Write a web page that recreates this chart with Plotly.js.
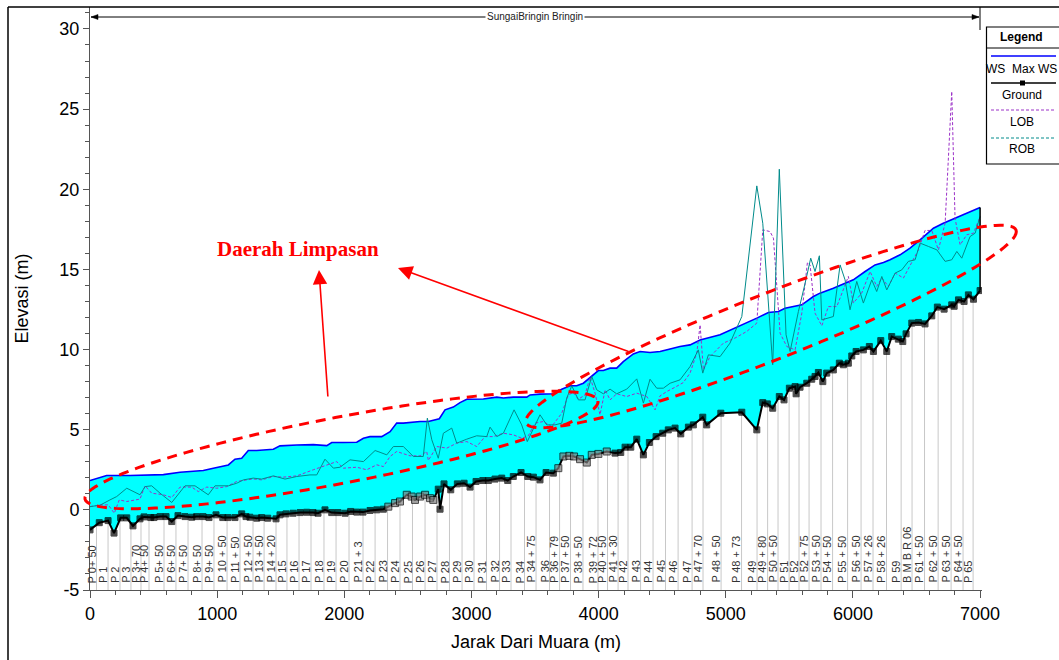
<!DOCTYPE html>
<html><head><meta charset="utf-8">
<script src="https://cdn.plot.ly/plotly-3.0.1.min.js"></script>
<style>html,body{margin:0;padding:0;background:#fff}#chart{width:1059px;height:660px}</style>
</head><body><div id="chart"></div>
<script>
// ---- DATA (distance from river mouth in m, elevation in m) ----
const groundDist=[0,73,142,189,241,289,338,393,425,477,503,551,598,643,692,747,800,839,889,936,991,1044,1085,1140,1193,1227,1258,1311,1350,1398,1463,1494,1542,1597,1652,1704,1754,1793,1848,1901,1951,2006,2050,2098,2147,2202,2255,2307,2346,2399,2438,2491,2530,2556,2596,2635,2674,2700,2739,2753,2784,2837,2889,2942,2989,3036,3089,3133,3185,3238,3285,3329,3390,3443,3487,3539,3587,3644,3683,3723,3770,3807,3854,3907,3946,3998,4064,4129,4174,4208,4253,4300,4352,4399,4452,4504,4548,4601,4646,4706,4745,4819,4850,4961,5126,5244,5291,5327,5369,5421,5458,5500,5545,5553,5584,5637,5676,5702,5728,5763,5794,5846,5893,5925,5964,5991,6025,6082,6129,6161,6219,6266,6305,6357,6392,6418,6463,6515,6567,6620,6664,6717,6777,6796,6830,6874,6908,6948,7000];
const groundElev=[-1.25,-0.8,-0.67,-1.45,-0.5,-0.5,-1.0,-0.56,-0.44,-0.48,-0.48,-0.42,-0.42,-0.73,-0.36,-0.42,-0.46,-0.42,-0.42,-0.48,-0.31,-0.48,-0.48,-0.48,-0.25,-0.42,-0.46,-0.52,-0.48,-0.52,-0.56,-0.31,-0.25,-0.21,-0.17,-0.15,-0.17,-0.21,0.0,-0.17,-0.17,-0.21,-0.1,-0.14,-0.14,-0.04,0.0,0.04,0.2,0.42,0.52,0.94,0.83,0.62,0.83,0.94,0.73,0.62,1.29,0.04,1.62,1.25,1.62,1.66,1.42,1.77,1.83,1.83,1.92,1.98,1.83,2.08,2.33,2.08,2.04,1.87,2.33,2.29,2.6,3.33,3.37,3.33,3.16,2.95,3.43,3.49,3.64,3.54,3.58,3.91,3.91,4.41,3.43,4.2,4.57,4.78,4.99,5.1,4.74,5.16,5.3,5.78,5.3,6.03,6.09,4.99,6.69,6.61,6.34,7.07,6.86,7.59,7.69,7.24,7.65,7.9,8.15,8.32,8.57,8.0,8.53,8.73,9.15,9.05,9.15,9.6,9.88,9.98,10.19,9.88,10.56,9.88,10.81,10.65,10.5,10.98,11.65,11.69,11.6,12.1,12.65,12.52,12.79,12.7,13.1,13.0,13.41,13.14,13.68];

const wsDist=[0,131,315,577,708,891,970,1088,1140,1193,1245,1311,1442,1494,1626,1756,1862,1901,1992,2098,2150,2202,2294,2360,2412,2464,2596,2661,2747,2792,2857,2910,2963,3093,3199,3251,3329,3435,3461,3539,3644,3710,3775,3828,3880,3933,3998,4037,4090,4142,4194,4273,4326,4404,4483,4562,4640,4719,4798,4955,5073,5165,5244,5335,5414,5466,5545,5598,5689,5741,5846,5925,6003,6096,6174,6240,6292,6371,6449,6528,6633,6711,6777,6830,6908,7000];
const wsElev=[1.83,2.14,2.14,2.2,2.35,2.45,2.6,2.8,3.16,3.22,3.7,3.7,3.78,3.99,4.05,4.07,4.01,4.2,4.2,4.22,4.47,4.57,4.57,4.88,5.41,5.41,5.51,5.51,5.68,6.24,6.41,6.69,6.9,6.92,7.03,6.98,7.03,7.03,7.17,7.22,7.24,7.53,7.74,7.74,7.9,8.28,8.69,8.69,8.84,8.84,9.25,9.73,9.88,9.82,9.88,10.03,10.19,10.29,10.6,10.92,11.33,11.65,11.96,12.31,12.37,12.58,12.68,12.79,13.31,13.52,13.83,14.1,14.35,14.87,15.28,15.43,15.6,15.91,16.33,16.84,17.57,17.88,18.09,18.26,18.55,18.86];

const lobDist=[0,79,144,191,230,289,393,433,485,577,643,708,800,852,918,997,1075,1154,1232,1284,1350,1442,1520,1626,1756,1809,1874,1940,1992,2098,2176,2255,2307,2360,2412,2517,2596,2648,2661,2727,2806,2884,2963,3041,3107,3172,3251,3329,3395,3447,3500,3565,3631,3710,3762,3801,3841,3893,3933,3972,4011,4051,4090,4142,4221,4300,4379,4444,4483,4536,4601,4666,4719,4772,4798,4824,4876,4981,5073,5165,5244,5291,5348,5375,5427,5480,5545,5598,5642,5663,5702,5755,5807,5873,5964,6003,6069,6135,6187,6227,6279,6332,6397,6463,6515,6567,6620,6672,6725,6777,6803,6843,6895,6948,7000];
const lobElev=[0.2,0.31,0.31,-0.21,0.62,0.52,0.67,1.5,1.04,0.94,0.77,1.42,1.42,1.14,1.42,1.35,1.45,1.77,1.87,1.93,1.87,2.08,2.04,2.12,2.5,2.66,2.81,3.01,2.6,2.66,2.5,2.81,2.7,3.33,3.64,3.37,3.37,3.64,3.08,3.95,3.85,4.16,4.26,3.95,4.57,4.57,4.78,4.68,4.47,4.62,5.41,5.51,5.2,6.03,7.17,7.32,6.9,7.17,8.28,7.28,5.93,7.49,6.86,7.24,7.07,7.28,7.07,6.24,7.11,7.38,7.65,7.94,8.53,9.78,11.54,8.73,9.56,10.4,10.72,11.13,11.65,17.47,17.36,16.95,11.02,10.19,9.98,12.27,15.43,15.28,12.27,11.48,12.68,12.68,14.56,12.9,13.52,14.87,13.94,14.46,13.94,14.77,14.46,15.5,16.22,17.43,17.43,16.22,17.88,26.1,18.2,16.53,17.16,17.26,18.3];

const robDist=[0,79,157,210,289,393,433,485,551,643,747,826,930,983,1088,1154,1206,1284,1350,1442,1534,1626,1730,1783,1848,1914,1966,2045,2150,2242,2281,2334,2386,2464,2543,2621,2653,2688,2739,2779,2845,2884,2963,3041,3120,3146,3199,3251,3335,3395,3439,3500,3539,3592,3657,3710,3749,3789,3841,3893,3946,3985,4037,4090,4142,4221,4300,4352,4404,4457,4509,4562,4640,4719,4784,4819,4863,4955,5033,5126,5244,5291,5369,5421,5474,5506,5571,5624,5668,5702,5736,5755,5846,5899,5938,5977,6030,6082,6148,6187,6227,6266,6332,6384,6436,6489,6528,6594,6660,6725,6777,6817,6856,6921,6961,7000];
const robElev=[0.2,0.29,0.62,0.83,1.35,0.94,1.45,1.5,1.04,0.46,1.5,1.5,0.94,1.5,1.5,1.66,1.87,1.98,1.92,2.12,1.92,2.08,2.18,2.18,3.16,2.6,2.66,3.12,3.01,3.7,3.59,3.43,3.95,3.95,3.33,3.33,5.72,4.37,3.22,4.78,5.1,4.16,4.41,4.62,4.57,5.16,4.57,4.78,6.24,5.3,4.26,5.3,5.93,5.3,5.3,5.41,6.97,7.74,6.86,6.86,8.32,7.49,7.24,7.53,7.24,7.53,8.17,6.66,8.15,7.59,7.59,7.9,8.11,8.94,9.98,8.53,9.67,9.56,10.4,12.06,20.21,17.88,9.05,21.25,10.92,9.88,12.37,14.14,15.7,14.87,15.85,11.85,12.06,15.28,14.35,12.48,14.25,12.9,14.35,13.62,14.56,13.72,14.77,14.97,15.5,15.6,16.64,16.43,16.22,15.5,15.6,16.12,15.7,17.05,17.26,18.3];

const stationDist=[51,142,236,322,401,464,582,676,771,881,975,1078,1180,1282,1369,1463,1549,1644,1738,1840,1935,2037,2147,2242,2340,2438,2536,2635,2729,2827,2926,3020,3118,3221,3311,3417,3508,3614,3693,3779,3877,3995,4070,4153,4231,4330,4428,4526,4625,4735,4821,4963,5124,5246,5329,5411,5498,5576,5655,5749,5840,5958,6064,6158,6264,6379,6465,6563,6670,6772,6866,6945];
const stationLabel=["P 0+ 50","P 1","P 2","P 3","P 3+ 70","P 4+ 50","P 5+ 50","P 6+ 50","P 7+ 50","P 8+ 50","P 9+ 50","P 10 + 50","P 11 + 50","P 12 + 50","P 13 + 50","P 14 + 20","P 15","P 16","P 17","P 18","P 19","P 20","P 21 + 3","P 22","P 23","P 24","P 25","P 26","P 27","P 28","P 29","P 30","P 31","P 32","P 33","P 34","P 34 + 75","P 36","P 36 + 79","P 37 + 50","P 38 + 50","P 39 + 72","P 40 + 50","P 41 + 30","P 42","P 43","P 44","P 45","P 46","P 47","P 47 + 70","P 48 + 50","P 48 + 73","P 49","P 49 + 80","P 50 + 50","P 51","P 52","P 52 + 75","P 53 + 50","P 54 + 50","P 55 + 50","P 56 + 50","P 57 + 26","P 58 + 26","P 59","B M B R 06","P 61 + 50","P 62 + 50","P 63 + 50","P 64 + 50","P 65"];

const xTickVals=[0,1000,2000,3000,4000,5000,6000,7000];
const yTickVals=[-5,0,5,10,15,20,25,30];
const reachName="SungaiBringin Bringin";
const legendNames=["WS  Max WS","Ground","LOB","ROB"];

// ---- LAYOUT HELPERS ----
const W=1059,H=660,ML=90,MR=77,MT=7,MB=70;
const PW=W-ML-MR, PH=H-MT-MB;
const px=x=>(x-ML)/PW, py=y=>(H-MB-y)/PH;
const FONT='"Liberation Sans Narrow","Liberation Sans",Arial,sans-serif';
const TFONT='"Liberation Sans",Arial,sans-serif';
const RED='#FF0000';

function interp(xs,ys,x){
  for(let i=1;i<xs.length;i++){ if(x<=xs[i]){const t=(x-xs[i-1])/(xs[i]-xs[i-1]);return ys[i-1]+t*(ys[i]-ys[i-1]);} }
  return ys[ys.length-1];
}
const stX=[],stY=[];
stationDist.forEach(d=>{stX.push(d,d,null);stY.push(interp(groundDist,groundElev,d),-5,null);});
const isInterp=d=>(d>=2340&&d<=2720)||(d>=3680&&d<=4100);
const gColors=groundDist.map(d=>isInterp(d)?'#7f7f7f':'#000000');
const gSizes=groundDist.map(d=>isInterp(d)?7:6);

const traces=[
  {x:stX,y:stY,mode:'lines',line:{color:'#c8c8c8',width:1},hoverinfo:'skip',showlegend:false},
  {x:groundDist,y:groundElev,mode:'lines',line:{width:0,color:'rgba(0,0,0,0)'},hoverinfo:'skip',showlegend:false},
  {x:wsDist,y:wsElev,mode:'lines',fill:'tonexty',fillcolor:'#00FFFF',line:{color:'#0000FF',width:1.6},name:legendNames[0]},
  {x:lobDist,y:lobElev,mode:'lines',line:{color:'#9B30C8',width:1,dash:'3px,2px'},name:legendNames[2]},
  {x:robDist,y:robElev,mode:'lines',line:{color:'#008B8B',width:1},name:legendNames[3]},
  {x:groundDist,y:groundElev,mode:'lines+markers',line:{color:'#000',width:2},marker:{symbol:'square',size:gSizes,color:gColors},name:legendNames[1]}
];

function ellipsePath(L,R,b){
  const cx=(L[0]+R[0])/2, cy=(L[1]+R[1])/2;
  const dx=R[0]-L[0], dy=R[1]-L[1], len=Math.hypot(dx,dy), a=len/2;
  const ux=dx/len, uy=dy/len, vx=-uy, vy=ux;
  let p='';
  for(let i=0;i<=120;i++){
    const t=2*Math.PI*i/120;
    const X=cx+a*Math.cos(t)*ux+b*Math.sin(t)*vx;
    const Y=cy+a*Math.cos(t)*uy+b*Math.sin(t)*vy;
    p+=(i?'L':'M')+px(X).toFixed(5)+','+py(Y).toFixed(5);
  }
  return p+'Z';
}
const P=(o)=>Object.assign({xref:'paper',yref:'paper'},o);
const T=(o)=>Object.assign({xref:'paper',yref:'paper',xanchor:'center',yanchor:'middle',showarrow:false},o);
const nG=groundDist.length-1, nW=wsDist.length-1;
const shapes=[
  // image frame (left/top)
  P({type:'line',x0:px(8),x1:px(8),y0:py(7),y1:py(665),line:{color:'#000',width:1.5}}),
  P({type:'line',x0:px(8),x1:px(1065),y0:py(7),y1:py(7),line:{color:'#000',width:1.5}}),
  // reach arrow
  P({type:'line',x0:px(91),x1:px(979),y0:py(17),y1:py(17),line:{color:'#000',width:1}}),
  P({type:'path',path:`M${px(91)},${py(17)}L${px(98)},${py(14.5)}L${px(98)},${py(19.5)}Z`,fillcolor:'#000',line:{color:'#000',width:0.5}}),
  P({type:'path',path:`M${px(979)},${py(17)}L${px(972)},${py(14.5)}L${px(972)},${py(19.5)}Z`,fillcolor:'#000',line:{color:'#000',width:0.5}}),
  P({type:'line',x0:px(980),x1:px(980),y0:py(7),y1:py(30),line:{color:'#000',width:1}}),
  // right end boundary between ground and WS
  {type:'line',xref:'x',yref:'y',x0:groundDist[nG],x1:groundDist[nG],y0:groundElev[nG],y1:wsElev[nW],line:{color:'#000',width:1.5}},
  // legend box
  P({type:'rect',x0:px(986.5),x1:px(1070),y0:py(27),y1:py(164),line:{color:'#000',width:1.2},fillcolor:'#fff'}),
  P({type:'line',x0:px(986.5),x1:px(1070),y0:py(48),y1:py(48),line:{color:'#000',width:1}}),
  P({type:'line',x0:px(991),x1:px(1056),y0:py(56),y1:py(56),line:{color:'#0000FF',width:1.5}}),
  P({type:'line',x0:px(991),x1:px(1056),y0:py(83),y1:py(83),line:{color:'#000',width:1.5}}),
  P({type:'rect',x0:px(1020),x1:px(1025),y0:py(80.5),y1:py(85.5),line:{color:'#000',width:0},fillcolor:'#000'}),
  P({type:'line',x0:px(991),x1:px(1056),y0:py(110),y1:py(110),line:{color:'#9B30C8',width:1,dash:'3px,2px'}}),
  P({type:'line',x0:px(991),x1:px(1056),y0:py(138),y1:py(138),line:{color:'#008B8B',width:1,dash:'3px,2px'}}),
  // red dashed ellipses
  P({type:'path',path:ellipsePath([85,499],[598,401],33),line:{color:RED,width:3,dash:'10px,7px'}}),
  P({type:'path',path:ellipsePath([526,423],[1016,230],33),line:{color:RED,width:3,dash:'10px,7px'}})
];

const annotations=[];
stationDist.forEach((d,i)=>annotations.push({x:d,y:-4.62,xref:'x',yref:'y',text:stationLabel[i],textangle:-90,showarrow:false,xanchor:'center',yanchor:'bottom',xshift:-5,borderpad:0,font:{family:FONT,size:11,color:'#333'}}));
annotations.push(T({x:px(535),y:py(17),text:reachName,bgcolor:'#fff',borderpad:1,font:{family:FONT,size:10,color:'#222'}}));
annotations.push(T({x:px(1022),y:py(37),text:'<b>Legend</b>',font:{family:TFONT,size:12,color:'#000'}}));
[[69,0],[95,1],[122,2],[149,3]].forEach(([y,k])=>annotations.push(T({x:px(1022),y:py(y),text:legendNames[k],font:{family:TFONT,size:12,color:'#000'}})));
annotations.push(T({x:px(298),y:py(249),text:'<b>Daerah Limpasan</b>',font:{family:'"Liberation Serif","Times New Roman",serif',size:21,color:RED}}));
annotations.push(P({x:px(319),y:py(270),ax:9,ay:128,text:'',showarrow:true,arrowhead:2,arrowsize:1.8,arrowwidth:1.6,arrowcolor:RED}));
annotations.push(P({x:px(398),y:py(268),ax:232,ay:84,text:'',showarrow:true,arrowhead:2,arrowsize:1.8,arrowwidth:1.6,arrowcolor:RED}));

const axBase={showgrid:false,zeroline:false,showline:true,linecolor:'#555',linewidth:1,ticks:'outside',tickcolor:'#555',tickwidth:1,fixedrange:true,tickfont:{family:FONT,size:18,color:'#000'}};
const layout={
  width:W,height:H,margin:{l:ML,r:MR,t:MT,b:MB},paper_bgcolor:'#fff',plot_bgcolor:'#fff',showlegend:false,
  xaxis:Object.assign({},axBase,{range:[0,7015],tickmode:'array',tickvals:xTickVals,ticktext:xTickVals.map(String),ticklen:7,
    minor:{dtick:200,tick0:0,ticks:'outside',ticklen:4,tickcolor:'#555',showgrid:false},
    title:{text:'Jarak Dari Muara (m)',font:{family:TFONT,size:18,color:'#000'},standoff:12}}),
  yaxis:Object.assign({},axBase,{range:[-5,31.37],tickmode:'array',tickvals:yTickVals,ticktext:yTickVals.map(String),ticklen:6,
    minor:{dtick:1,tick0:0,ticks:'outside',ticklen:4,tickcolor:'#555',showgrid:false},
    title:{text:'Elevasi (m)',font:{family:TFONT,size:18,color:'#000'},standoff:26}}),
  shapes:shapes,annotations:annotations
};
Plotly.newPlot('chart',traces,layout,{staticPlot:true,displayModeBar:false});
</script></body></html>
